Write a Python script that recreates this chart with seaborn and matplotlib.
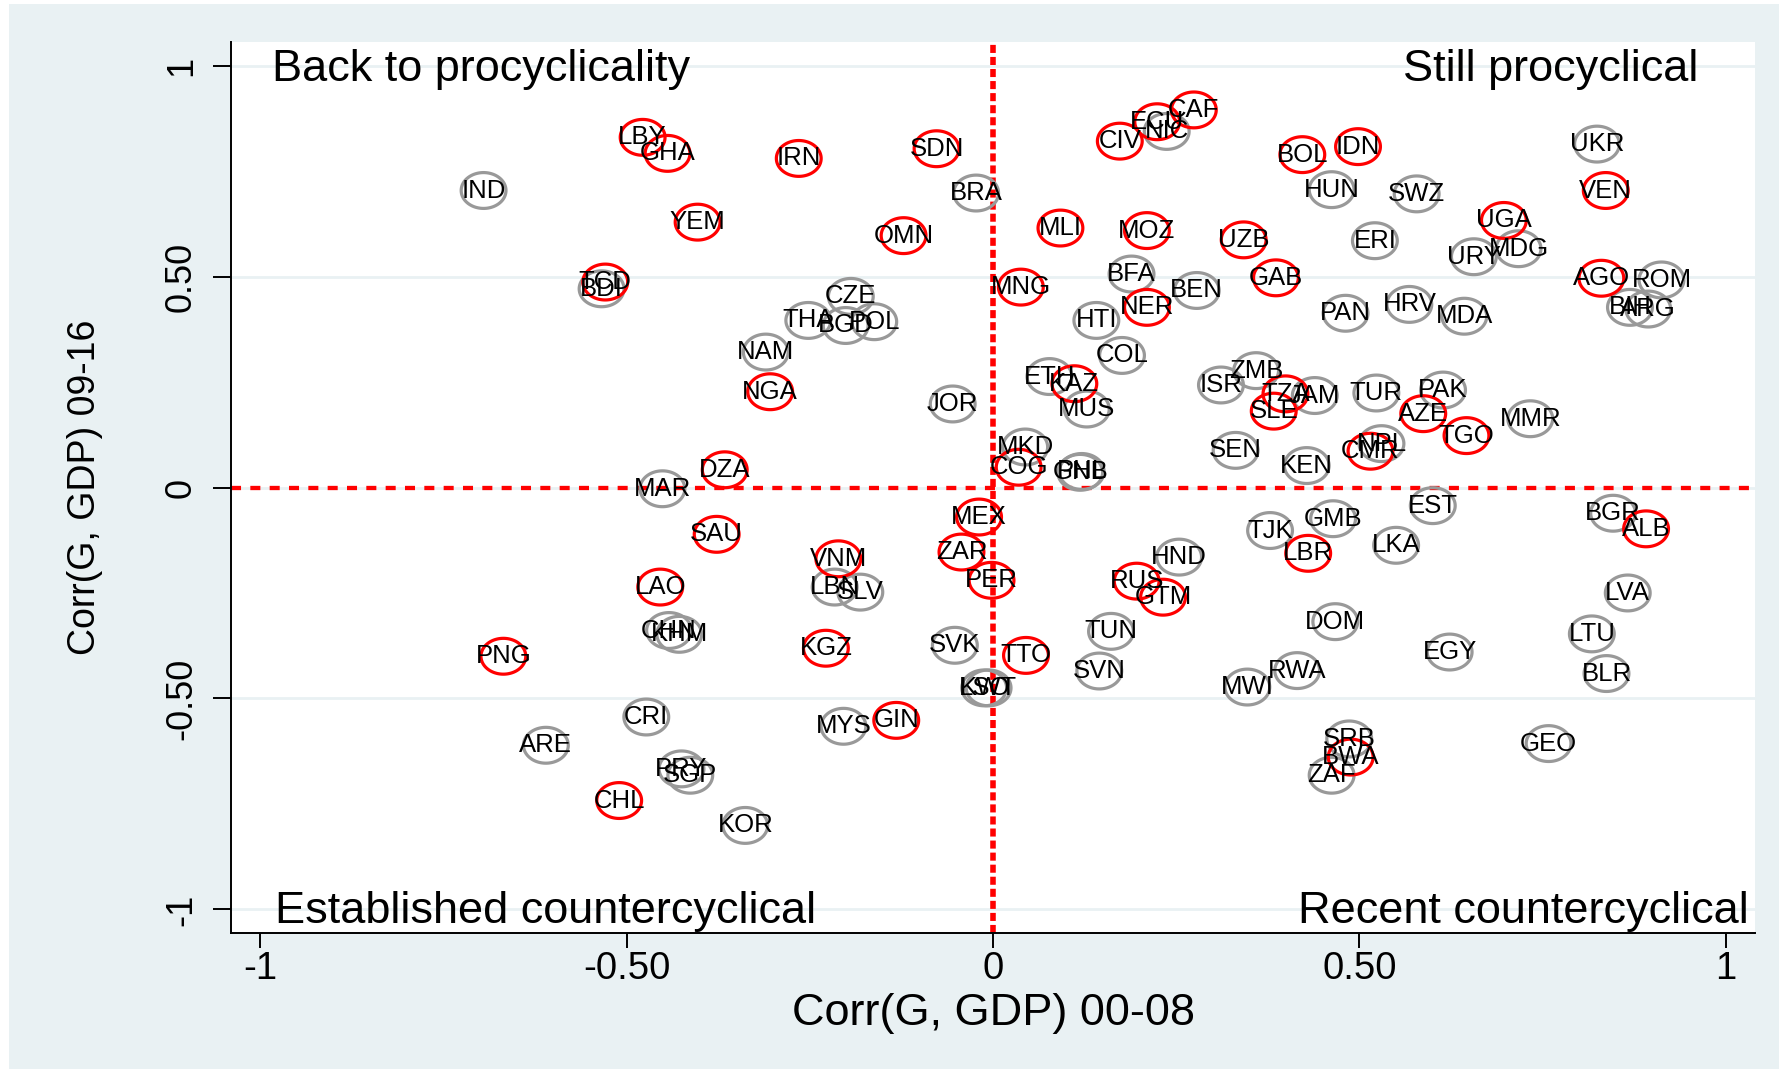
import numpy as np
import pandas as pd
import matplotlib
matplotlib.use("Agg")
import matplotlib.pyplot as plt
import seaborn as sns
from matplotlib.path import Path
from matplotlib.patches import Rectangle

# ---------------- data ----------------
codes = ["IND", "LBY", "GHA", "YEM", "TCD", "BDI", "IRN", "SDN", "BRA", "OMN",
         "CIV", "ECU", "NIC", "CAF", "MLI", "MOZ", "MNG", "BFA", "BEN", "NER",
         "HTI", "COL", "CZE", "THA", "BGD", "POL", "NAM", "BOL", "IDN", "HUN",
         "SWZ", "UKR", "VEN", "UGA", "MDG", "URY", "UZB", "ERI", "GAB", "PAN",
         "HRV", "MDA", "AGO", "ROM", "BIH", "ARG", "DZA", "MAR", "SAU", "LAO",
         "CHN", "KHM", "PNG", "NGA", "JOR", "ETH", "KAZ", "MUS", "MKD", "COG",
         "GNB", "PHL", "ISR", "MEX", "ZAR", "PER", "VNM", "LBN", "SLV", "KGZ",
         "SVK", "TTO", "HND", "RUS", "GTM", "TUN", "SVN", "ZMB", "TZA", "JAM",
         "SLE", "TUR", "PAK", "AZE", "TGO", "MMR", "NPL", "CMR", "SEN", "KEN",
         "EST", "BGR", "ALB", "TJK", "GMB", "LBR", "LKA", "LVA", "DOM", "LTU",
         "EGY", "RWA", "BLR", "MWI", "SRB", "BWA", "ZAF", "GEO", "CRI", "ARE",
         "PRY", "SGP", "CHL", "KOR", "LSO", "KWT", "MYS", "GIN"]

corr_00_08 = [-0.695, -0.478, -0.444, -0.403, -0.529, -0.534, -0.265, -0.077, -0.023, -0.122,
              0.173, 0.224, 0.237, 0.274, 0.092, 0.210, 0.038, 0.189, 0.278, 0.210,
              0.141, 0.176, -0.194, -0.252, -0.201, -0.162, -0.310, 0.422, 0.498, 0.462,
              0.578, 0.824, 0.836, 0.697, 0.717, 0.656, 0.342, 0.521, 0.386, 0.481,
              0.568, 0.643, 0.830, 0.912, 0.869, 0.894, -0.366, -0.451, -0.377, -0.454,
              -0.442, -0.428, -0.668, -0.304, -0.055, 0.077, 0.111, 0.128, 0.044, 0.035,
              0.119, 0.121, 0.311, -0.019, -0.043, -0.002, -0.211, -0.216, -0.181, -0.228,
              -0.052, 0.045, 0.254, 0.196, 0.232, 0.161, 0.145, 0.359, 0.399, 0.439,
              0.383, 0.523, 0.614, 0.587, 0.646, 0.733, 0.530, 0.515, 0.331, 0.428,
              0.600, 0.846, 0.891, 0.378, 0.464, 0.430, 0.550, 0.866, 0.467, 0.817,
              0.623, 0.415, 0.837, 0.347, 0.486, 0.488, 0.462, 0.758, -0.473, -0.610,
              -0.425, -0.413, -0.510, -0.338, -0.012, -0.006, -0.204, -0.132]

corr_09_16 = [0.704, 0.830, 0.792, 0.629, 0.487, 0.471, 0.780, 0.803, 0.698, 0.597,
              0.821, 0.867, 0.844, 0.895, 0.615, 0.609, 0.475, 0.506, 0.467, 0.427,
              0.396, 0.313, 0.453, 0.396, 0.384, 0.393, 0.321, 0.789, 0.808, 0.706,
              0.696, 0.814, 0.704, 0.633, 0.566, 0.547, 0.587, 0.585, 0.497, 0.413,
              0.434, 0.406, 0.496, 0.492, 0.427, 0.423, 0.042, -0.003, -0.111, -0.236,
              -0.339, -0.348, -0.400, 0.227, 0.198, 0.263, 0.246, 0.186, 0.096, 0.048,
              0.036, 0.038, 0.243, -0.070, -0.153, -0.220, -0.169, -0.236, -0.248, -0.381,
              -0.374, -0.398, -0.165, -0.222, -0.260, -0.341, -0.435, 0.277, 0.222, 0.218,
              0.181, 0.224, 0.231, 0.175, 0.123, 0.163, 0.104, 0.086, 0.088, 0.052,
              -0.043, -0.061, -0.098, -0.102, -0.074, -0.156, -0.137, -0.250, -0.318, -0.347,
              -0.390, -0.434, -0.441, -0.473, -0.596, -0.639, -0.682, -0.607, -0.544, -0.611,
              -0.667, -0.682, -0.742, -0.801, -0.475, -0.475, -0.566, -0.552]

red_codes = ["LBY", "GHA", "YEM", "TCD", "IRN", "SDN", "OMN", "CIV", "ECU", "CAF",
             "MLI", "MOZ", "MNG", "NER", "BOL", "IDN", "VEN", "UGA", "UZB", "GAB",
             "AGO", "DZA", "SAU", "LAO", "PNG", "NGA", "KAZ", "COG", "MEX", "ZAR",
             "PER", "VNM", "KGZ", "TTO", "RUS", "GTM", "TZA", "SLE", "AZE", "TGO",
             "CMR", "ALB", "LBR", "BWA", "CHL", "GIN"]

x_ticks = [-1, -0.5, 0, 0.5, 1]
x_tick_labels = ["-1", "-0.50", "0", "0.50", "1"]
y_ticks = [-1, -0.5, 0, 0.5, 1]
y_tick_labels = ["-1", "-0.50", "0", "0.50", "1"]

quadrant_texts = ["Back to procyclicality", "Still procyclical",
                  "Established countercyclical", "Recent countercyclical"]

# ---------------- style ----------------
sns.set_style("white")
plt.rcParams["font.family"] = ["Liberation Sans", "DejaVu Sans"]

BG = "#E9F1F3"
GRAY = "#999999"
RED = "#FF0000"

df = pd.DataFrame({"code": codes, "x": corr_00_08, "y": corr_09_16})
df["grp"] = np.where(df["code"].isin(red_codes), "red", "gray")

W, H = 1789, 1073
fig = plt.figure(figsize=(W / 100, H / 100), dpi=100, facecolor="white")
fig.patches.append(Rectangle((9 / W, 4 / H), (1779 - 9) / W, (1069 - 4) / H,
                             transform=fig.transFigure, facecolor=BG,
                             edgecolor="none", zorder=-10))

ax = fig.add_axes([231 / W, (H - 933) / H, (1755 - 231) / W, (933 - 42) / H])
ax.set_facecolor("white")
ax.set_xlim(-1.0396, 1.0396)
ax.set_ylim(-1.056, 1.056)

# grid
ax.set_yticks(y_ticks)
ax.set_yticklabels(y_tick_labels)
ax.set_xticks(x_ticks)
ax.set_xticklabels(x_tick_labels)
ax.yaxis.grid(True, color=BG, lw=2.0, zorder=0)
ax.xaxis.grid(False)
ax.set_axisbelow(True)

# reference lines
ax.axvline(0, color=RED, lw=4.0, dashes=(1.45, 0.72), zorder=1)
ax.axhline(0, color=RED, lw=3.1, dashes=(2.33, 2.16), zorder=1)

# ellipse marker
t = np.linspace(0, 2 * np.pi, 120)
ell = Path(np.column_stack([np.cos(t), 0.80 * np.sin(t)]), closed=True)

for grp, col in [("gray", GRAY), ("red", RED)]:
    sub = df[df["grp"] == grp]
    sns.scatterplot(data=sub, x="x", y="y", ax=ax, marker=ell, s=1040,
                    color=col, facecolor="none", edgecolor=col,
                    linewidth=2.3, zorder=3, legend=False)

for c, xv, yv in zip(codes, corr_00_08, corr_09_16):
    ax.text(xv, yv, c, ha="center", va="center", fontsize=18.5,
            color="black", zorder=5)

# quadrant labels
qpos = [(-0.984, 0.964, "left"), (0.963, 0.964, "right"),
        (-0.980, -1.033, "left"), (1.031, -1.033, "right")]
for txt, (qx, qy, ha) in zip(quadrant_texts, qpos):
    ax.text(qx, qy, txt, ha=ha, va="baseline", fontsize=32.5, color="black",
            zorder=6)

# axes styling
for s in ["top", "right"]:
    ax.spines[s].set_visible(False)
for s in ["left", "bottom"]:
    ax.spines[s].set_color("black")
    ax.spines[s].set_linewidth(1.4)

ax.tick_params(axis="x", direction="out", length=11, width=1.4, pad=2,
               labelsize=27.5, colors="black", bottom=True)
ax.tick_params(axis="y", direction="out", length=13, width=1.4, pad=10,
               labelsize=26, colors="black", left=True, labelrotation=90)
for lbl in ax.get_yticklabels():
    lbl.set_va("center")

ax.set_xlabel("Corr(G, GDP) 00-08", fontsize=32.5, color="black")
ax.xaxis.set_label_coords(0.5, (933 - 1025) / 891)
ax.xaxis.label.set_va("baseline")
ax.set_ylabel("Corr(G, GDP) 09-16", fontsize=27, color="black")
ax.yaxis.set_label_coords((85 - 231) / 1524, 0.5)
ax.yaxis.label.set_va("center")

fig.savefig("out.png", dpi=100, facecolor="white")
